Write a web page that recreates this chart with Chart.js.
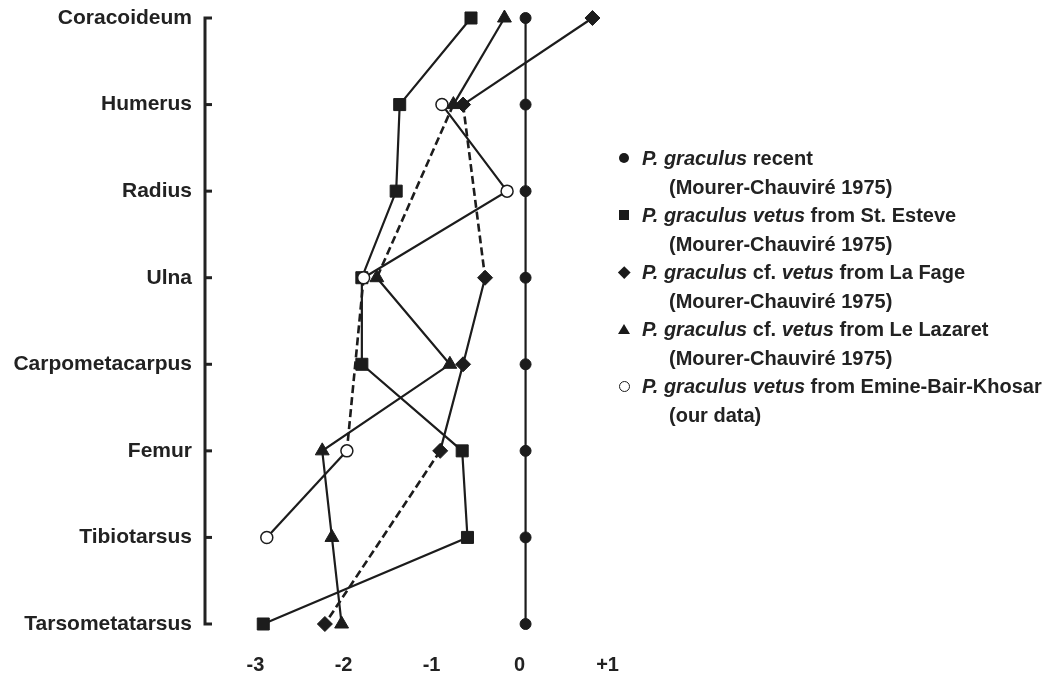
<!DOCTYPE html>
<html><head><meta charset="utf-8">
<script src="https://cdn.jsdelivr.net/npm/chart.js@4"></script>
<style>
html,body{margin:0;padding:0;background:#fff;}
#wrap{position:relative;width:1048px;height:675px;overflow:hidden;}
#c{position:absolute;left:0;top:0;}
#legend{position:absolute;left:612px;top:144px;font-family:"Liberation Sans",Arial,sans-serif;font-weight:bold;font-size:20px;color:#222;}
.row{height:28.5px;line-height:28.5px;position:relative;white-space:nowrap;}
.row .t{position:absolute;top:0;}
.mk{position:absolute;box-sizing:border-box;}
.m-circle{left:7px;top:9px;width:10px;height:10px;border-radius:50%;background:#1a1a1a;}
.m-rect{left:7px;top:9px;width:10px;height:10px;background:#1a1a1a;}
.m-rectRot{left:8px;top:10px;width:8.5px;height:8.5px;background:#1a1a1a;transform:rotate(45deg);}
.m-triangle{left:6px;top:9px;width:0;height:0;border-left:6px solid transparent;border-right:6px solid transparent;border-bottom:10px solid #1a1a1a;}
.m-open{left:6.5px;top:8.5px;width:11px;height:11px;border-radius:50%;border:1.5px solid #1a1a1a;background:#fff;}
</style>
</head><body>
<div id="wrap"><canvas id="c" width="1048" height="675"></canvas><div id="legend"></div></div>
<script>
const categories = ['Coracoideum','Humerus','Radius','Ulna','Carpometacarpus','Femur','Tibiotarsus','Tarsometatarsus'];
const recent = [0,0,0,0,0,0,0,0];
const stEsteve = [-0.62,-1.43,-1.47,-1.86,-1.86,-0.72,-0.66,-2.98];
const laFage = [0.76,-0.71,null,-0.46,-0.71,-0.97,null,-2.28];
const leLazaret = [-0.24,-0.82,null,-1.69,-0.86,-2.31,-2.20,-2.09];
const emineBairKhosar = [null,-0.95,-0.21,-1.84,null,-2.03,-2.94,null];
const xTicks = [-3,-2,-1,0,1];
const xTickLabels = ['-3','-2','-1','0','+1'];
const legendLabels = [
  ['<i>P. graculus</i> recent','(Mourer-Chauviré 1975)'],
  ['<i>P. graculus vetus</i> from St. Esteve','(Mourer-Chauviré 1975)'],
  ['<i>P. graculus</i> cf. <i>vetus</i> from La Fage','(Mourer-Chauviré 1975)'],
  ['<i>P. graculus</i> cf. <i>vetus</i> from Le Lazaret','(Mourer-Chauviré 1975)'],
  ['<i>P. graculus vetus</i> from Emine-Bair-Khosar','(our data)']
];
const legendMarkers = ['m-circle','m-rect','m-rectRot','m-triangle','m-open'];

// HTML legend
const lg = document.getElementById('legend');
legendLabels.forEach((pair, i) => {
  const r1 = document.createElement('div'); r1.className = 'row';
  r1.innerHTML = '<span class="mk ' + legendMarkers[i] + '"></span><span class="t" style="left:30px">' + pair[0] + '</span>';
  const r2 = document.createElement('div'); r2.className = 'row';
  r2.innerHTML = '<span class="t" style="left:57px">' + pair[1] + '</span>';
  lg.appendChild(r1); lg.appendChild(r2);
});

const INK = '#1c1c1c';
function ds(label, data, style, radius, fill) {
  const gap = c => (c.p1DataIndex - c.p0DataIndex > 1) || data[c.p0DataIndex] == null || data[c.p1DataIndex] == null;
  return {
    label, data, pointStyle: style, pointRadius: radius, pointHoverRadius: radius,
    pointBackgroundColor: fill, pointBorderColor: INK, pointBorderWidth: style === 'circle' && fill === '#fff' ? 1.5 : 1,
    borderColor: INK, borderWidth: 2.2, spanGaps: true, clip: false, tension: 0,
    segment: {
      borderDash: c => (gap(c) ? [8, 4] : []),
      borderWidth: c => (gap(c) ? 2.6 : 2.2)
    }
  };
}

const axisPlugin = {
  id: 'inwardAxis',
  beforeDatasetsDraw(chart) {
    const ys = chart.scales.y, ca = chart.chartArea, ctx = chart.ctx;
    const x0 = ca.left, tl = 7;
    ctx.save();
    ctx.strokeStyle = '#222'; ctx.lineWidth = 3; ctx.lineJoin = 'miter'; ctx.lineCap = 'butt';
    ctx.beginPath();
    ctx.moveTo(x0 + tl, ys.getPixelForTick(0));
    ctx.lineTo(x0, ys.getPixelForTick(0));
    ctx.lineTo(x0, ys.getPixelForTick(ys.ticks.length - 1));
    ctx.lineTo(x0 + tl, ys.getPixelForTick(ys.ticks.length - 1));
    ctx.stroke();
    for (let i = 1; i < ys.ticks.length - 1; i++) {
      const py = ys.getPixelForTick(i);
      ctx.beginPath(); ctx.moveTo(x0, py); ctx.lineTo(x0 + tl, py); ctx.stroke();
    }
    ctx.restore();
  }
};

new Chart(document.getElementById('c'), {
  type: 'line',
  data: {
    labels: categories,
    datasets: [
      ds('P. graculus vetus from Emine-Bair-Khosar', emineBairKhosar, 'circle', 6, '#fff'),
      ds('P. graculus cf. vetus from Le Lazaret', leLazaret, 'triangle', 8, INK),
      ds('P. graculus cf. vetus from La Fage', laFage, 'rectRot', 7.5, INK),
      ds('P. graculus vetus from St. Esteve', stEsteve, 'rect', 8.5, INK),
      ds('P. graculus recent', recent, 'circle', 5.5, INK)
    ]
  },
  options: {
    indexAxis: 'y',
    responsive: false,
    animation: false,
    events: [],
    layout: { padding: { top: 18, left: 0, right: 408, bottom: 0 } },
    plugins: { legend: { display: false }, tooltip: { enabled: false } },
    scales: {
      y: {
        type: 'category',
        grid: { display: false, drawTicks: false },
        border: { display: false },
        ticks: { color: '#222', padding: 13, font: { family: '"Liberation Sans", Arial, sans-serif', size: 21, weight: 'bold' } },
        afterFit: s => { s.width = 205; s.paddingTop = 0; s.paddingBottom = 0; }
      },
      x: {
        type: 'linear',
        min: -3.642, max: 1.3,
        grid: { display: false, drawTicks: false },
        border: { display: false },
        afterBuildTicks: s => { s.ticks = xTicks.map(v => ({ value: v })); },
        ticks: {
          color: '#222', padding: 29, labelOffset: -6, autoSkip: false, maxRotation: 0,
          font: { family: '"Liberation Sans", Arial, sans-serif', size: 20, weight: 'bold' },
          callback: (v) => xTickLabels[xTicks.indexOf(v)]
        },
        afterFit: s => { s.height = 51; s.paddingLeft = 0; s.paddingRight = 0; }
      }
    }
  },
  plugins: [axisPlugin]
});
</script>
</body></html>
